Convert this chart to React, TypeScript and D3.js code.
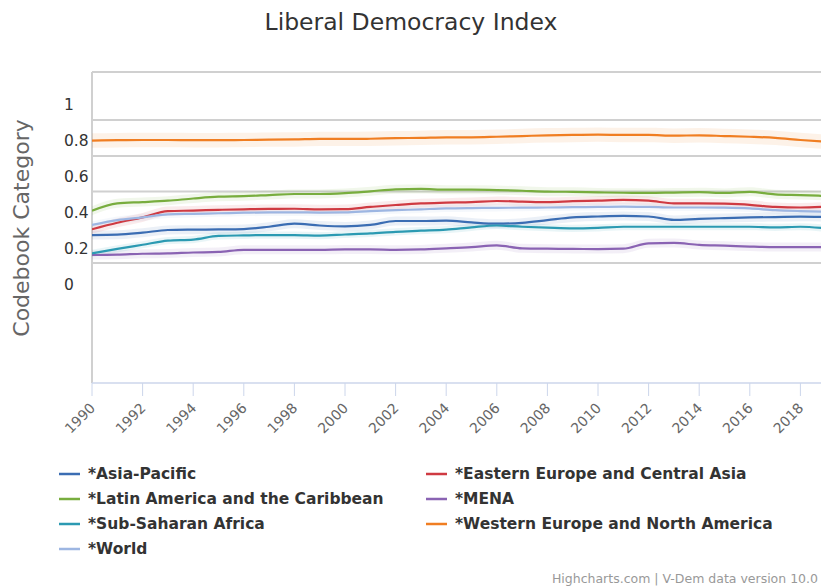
import React from "react";
import * as d3 from "d3";

// Years and regional series of the V-Dem Liberal Democracy Index
const years: number[] = d3.range(1990, 2020);

const asiaPacific = [0.272, 0.274, 0.285, 0.300, 0.302, 0.303, 0.305, 0.318, 0.335, 0.325, 0.320, 0.328, 0.350, 0.350, 0.352, 0.342, 0.335, 0.340, 0.355, 0.370, 0.375, 0.378, 0.375, 0.356, 0.362, 0.366, 0.370, 0.372, 0.374, 0.372];
const easternEurope = [0.304, 0.340, 0.370, 0.405, 0.408, 0.412, 0.415, 0.417, 0.418, 0.415, 0.416, 0.428, 0.439, 0.448, 0.452, 0.455, 0.461, 0.458, 0.455, 0.460, 0.463, 0.467, 0.463, 0.448, 0.448, 0.446, 0.440, 0.428, 0.425, 0.430];
const latinAmerica = [0.407, 0.448, 0.455, 0.463, 0.475, 0.485, 0.488, 0.494, 0.500, 0.500, 0.505, 0.515, 0.526, 0.528, 0.524, 0.524, 0.522, 0.518, 0.513, 0.512, 0.509, 0.507, 0.506, 0.508, 0.510, 0.506, 0.512, 0.498, 0.494, 0.489];
const mena = [0.161, 0.163, 0.168, 0.170, 0.175, 0.178, 0.190, 0.190, 0.190, 0.190, 0.192, 0.192, 0.190, 0.192, 0.198, 0.205, 0.215, 0.198, 0.196, 0.195, 0.194, 0.196, 0.226, 0.228, 0.217, 0.213, 0.208, 0.205, 0.205, 0.205];
const subSaharan = [0.170, 0.195, 0.218, 0.241, 0.247, 0.267, 0.270, 0.272, 0.272, 0.269, 0.275, 0.281, 0.290, 0.296, 0.302, 0.315, 0.325, 0.318, 0.313, 0.309, 0.312, 0.318, 0.318, 0.318, 0.318, 0.318, 0.318, 0.315, 0.318, 0.309];
const westernEurope = [0.797, 0.799, 0.800, 0.800, 0.799, 0.799, 0.800, 0.802, 0.803, 0.806, 0.806, 0.807, 0.810, 0.812, 0.815, 0.815, 0.818, 0.822, 0.826, 0.828, 0.830, 0.828, 0.828, 0.824, 0.826, 0.822, 0.818, 0.812, 0.800, 0.790];
const world = [0.328, 0.355, 0.370, 0.387, 0.390, 0.393, 0.396, 0.398, 0.398, 0.397, 0.398, 0.405, 0.410, 0.415, 0.420, 0.422, 0.423, 0.424, 0.425, 0.427, 0.428, 0.430, 0.428, 0.425, 0.425, 0.424, 0.420, 0.410, 0.405, 0.402];

// Half-width of each region's uncertainty band
const bandWidths = [0.025, 0.025, 0.025, 0.025, 0.02, 0.04, 0.02];

const seriesNames = [
  "*Asia-Pacific",
  "*Eastern Europe and Central Asia",
  "*Latin America and the Caribbean",
  "*MENA",
  "*Sub-Saharan Africa",
  "*Western Europe and North America",
  "*World",
];
const seriesValues = [asiaPacific, easternEurope, latinAmerica, mena, subSaharan, westernEurope, world];
const seriesColors = ["#3b6db3", "#cf3a42", "#78ad3e", "#8a63b3", "#2b9ab2", "#f07e22", "#9db6e2"];

const yTicks = [0, 0.2, 0.4, 0.6, 0.8, 1];
const xTicks = d3.range(1990, 2020, 2);
// Category thresholds drawn as horizontal lines
const thresholds = [0.911, 0.711, 0.514, 0.117];

const W = 821;
const H = 587;
const plotLeft = 92;
const plotTop = 72;
const plotBottom = 383;

export default function App() {
  const x = d3.scaleLinear().domain([1990, 2019]).range([plotLeft, plotLeft + 29 * 25.3]);
  const y = d3.scaleLinear().domain([0, 1]).range([284, 104]);
  const plotRight = x(2019) + 2;

  const line = d3
    .line<number>()
    .x((_, i) => x(years[i]))
    .y((d) => y(d))
    .curve(d3.curveMonotoneX);

  const band = (w: number) =>
    d3
      .area<number>()
      .x((_, i) => x(years[i]))
      .y0((d) => y(d - w))
      .y1((d) => y(d + w))
      .curve(d3.curveMonotoneX);

  const font = "'DejaVu Sans', sans-serif";

  return (
    <svg
      width={W}
      height={H}
      style={{ position: "absolute", left: 0, top: 0, background: "#fff" }}
      fontFamily={font}
    >
      <defs>
        <clipPath id="plot-clip">
          <rect x={plotLeft} y={plotTop} width={plotRight - plotLeft} height={plotBottom - plotTop} />
        </clipPath>
      </defs>

      <text x={411} y={30} textAnchor="middle" fontSize={23.5} fill="#333">
        Liberal Democracy Index
      </text>

      {/* plot frame */}
      <line x1={plotLeft} x2={W + 10} y1={plotTop} y2={plotTop} stroke="#d0d0d0" strokeWidth={2} />
      <line x1={plotLeft} x2={plotLeft} y1={plotTop} y2={plotBottom} stroke="#d0d0d0" strokeWidth={2} />

      {thresholds.map((t) => (
        <line key={t} x1={plotLeft} x2={W + 10} y1={y(t)} y2={y(t)} stroke="#d0d0d0" strokeWidth={2} />
      ))}

      {/* y axis */}
      {yTicks.map((t) => (
        <text key={t} x={64} y={y(t) + 1.5} dominantBaseline="middle" fontSize={15.5} fill="#333">
          {d3.format("~g")(t)}
        </text>
      ))}
      <text
        transform={`translate(29, 228) rotate(-90)`}
        textAnchor="middle"
        fontSize={22}
        fill="#666"
      >
        Codebook Category
      </text>

      {/* series */}
      <g clipPath="url(#plot-clip)">
        {seriesValues.map((vals, i) => (
          <path key={"b" + i} d={band(bandWidths[i])(vals) || ""} fill={seriesColors[i]} opacity={0.1} />
        ))}
        {seriesValues.map((vals, i) => (
          <path key={"l" + i} d={line(vals) || ""} fill="none" stroke={seriesColors[i]} strokeWidth={2.2} />
        ))}
      </g>

      {/* x axis */}
      <line x1={plotLeft} x2={W + 10} y1={plotBottom} y2={plotBottom} stroke="#ccd6eb" strokeWidth={1.5} />
      {xTicks.map((t) => (
        <g key={t}>
          <line x1={x(t)} x2={x(t)} y1={plotBottom} y2={plotBottom + 13} stroke="#ccd6eb" strokeWidth={1} />
          <text
            transform={`translate(${x(t) + 4}, ${plotBottom + 26}) rotate(-45)`}
            textAnchor="end"
            fontSize={14}
            fill="#666"
          >
            {t}
          </text>
        </g>
      ))}

      {/* legend */}
      {seriesNames.map((name, i) => {
        const col = i % 2;
        const row = Math.floor(i / 2);
        const lx = col === 0 ? 59 : 426;
        const ly = 474 + row * 25;
        return (
          <g key={name}>
            <line x1={lx} x2={lx + 21} y1={ly} y2={ly} stroke={seriesColors[i]} strokeWidth={2.5} />
            <text x={lx + 29} y={ly} dominantBaseline="middle" fontSize={15.5} fontWeight="bold" fill="#333">
              {name}
            </text>
          </g>
        );
      })}

      <text x={818} y={583} textAnchor="end" fontSize={12.5} fill="#999">
        Highcharts.com | V-Dem data version 10.0
      </text>
    </svg>
  );
}
